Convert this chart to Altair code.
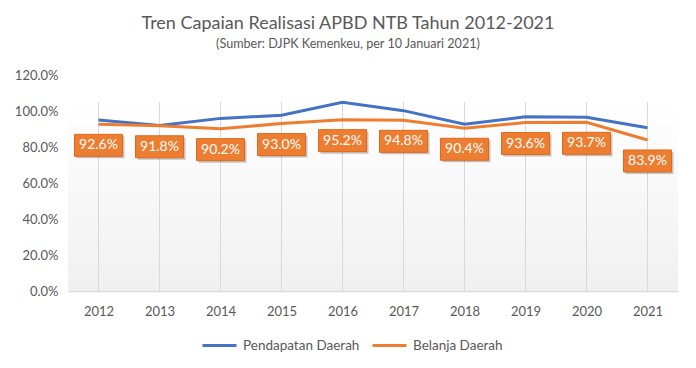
import altair as alt
import pandas as pd

years = ["2012", "2013", "2014", "2015", "2016", "2017", "2018", "2019", "2020", "2021"]
pendapatan = [95.0, 92.0, 95.9, 97.6, 104.8, 100.2, 92.6, 96.8, 96.5, 90.7]
belanja = [92.6, 91.8, 90.2, 93.0, 95.2, 94.8, 90.4, 93.6, 93.7, 83.9]
series = ["Pendapatan Daerah", "Belanja Daerah"]
colors = ["#4472C4", "#ED7D31"]
y_ticks = [0, 0.2, 0.4, 0.6, 0.8, 1.0, 1.2]

FONT = "Lato"
GRAY = "#595959"

rows = []
for i, yr in enumerate(years):
    rows.append({"year": yr, "series": series[0], "value": pendapatan[i] / 100})
    rows.append({"year": yr, "series": series[1], "value": belanja[i] / 100})
df = pd.DataFrame(rows)
df_b = df[df.series == series[1]]
df_years = pd.DataFrame({"year": years})

xscale = alt.Scale(type="point", padding=0.5, domain=years)
yscale = alt.Scale(domain=[0, 1.2])

x_enc = alt.X("year:O", scale=xscale, sort=years,
              axis=alt.Axis(title=None, labelAngle=0, ticks=False, grid=False,
                            domain=True, domainColor="#d9d9d9", domainWidth=1.5,
                            labelPadding=14, labelFontSize=13, labelColor=GRAY,
                            labelFont=FONT))
y_enc = alt.Y("value:Q", scale=yscale,
              axis=alt.Axis(title=None, values=y_ticks, format=".1%", grid=False,
                            domain=False, ticks=False, labelPadding=10,
                            labelOverlap=False, tickCount=7,
                            labelFontSize=13, labelColor=GRAY, labelFont=FONT))

bg = alt.Chart(df_years.head(1)).mark_rect(
    fill=alt.Gradient(gradient="linear", x1=0, y1=0, x2=0, y2=1,
                      stops=[alt.GradientStop(offset=0, color="#ffffff"),
                             alt.GradientStop(offset=1, color="#f0f0f0")])
).encode(x=alt.value(0), x2=alt.value(610), y=alt.value(27), y2=alt.value(216))

grid = alt.Chart(df_years).mark_rule(color="#d9d9d9", strokeWidth=1).encode(
    x=x_enc, y=alt.value(27), y2=alt.value(216))

lines = alt.Chart(df).mark_line(strokeWidth=3).encode(
    x=x_enc,
    y=y_enc,
    color=alt.Color("series:N", scale=alt.Scale(domain=series, range=colors),
                    sort=series,
                    legend=alt.Legend(title=None, orient="none", legendX=133,
                                      legendY=252, direction="horizontal",
                                      symbolType="stroke", symbolSize=1156,
                                      symbolStrokeWidth=3, labelOffset=5,
                                      columnPadding=6, labelFontSize=13.5,
                                      labelColor=GRAY, labelFont=FONT)),
    order=alt.Order("series:N", sort="descending"),
)

shadow = alt.Chart(df_b).mark_rect(width=48, height=22, fill="#000000",
                                   opacity=0.22, xOffset=2, yOffset=23).encode(
    x=x_enc, y=y_enc)

boxes = alt.Chart(df_b).mark_rect(width=48, height=22, fill="#ED7D31",
                                  stroke="#E06A1B", strokeWidth=1,
                                  yOffset=21).encode(
    x=x_enc, y=y_enc)

labels = alt.Chart(df_b).mark_text(color="#ffffff", fontSize=14, font=FONT,
                                   dy=21, baseline="middle").encode(
    x=x_enc, y=y_enc,
    text=alt.Text("value:Q", format=".1%"))

chart = alt.layer(bg, grid, lines, shadow, boxes, labels).properties(
    width=610, height=216,
    autosize=alt.AutoSizeParams(type="none"),
    padding={"left": 60, "top": 67, "right": 10, "bottom": 69},
    title=alt.TitleParams(
        text="Tren Capaian Realisasi APBD NTB Tahun 2012-2021",
        subtitle="(Sumber: DJPK Kemenkeu, per 10 Januari 2021)",
        fontSize=18, subtitleFontSize=12.6, font=FONT, subtitleFont=FONT,
        fontWeight="normal", color=GRAY, subtitleColor=GRAY,
        anchor="middle", dx=-25, offset=18, subtitlePadding=5),
).configure_view(stroke=None).configure_axisY(labelOverlap=False)

chart.save("out.html", embed_options={"renderer": "svg", "actions": False})
